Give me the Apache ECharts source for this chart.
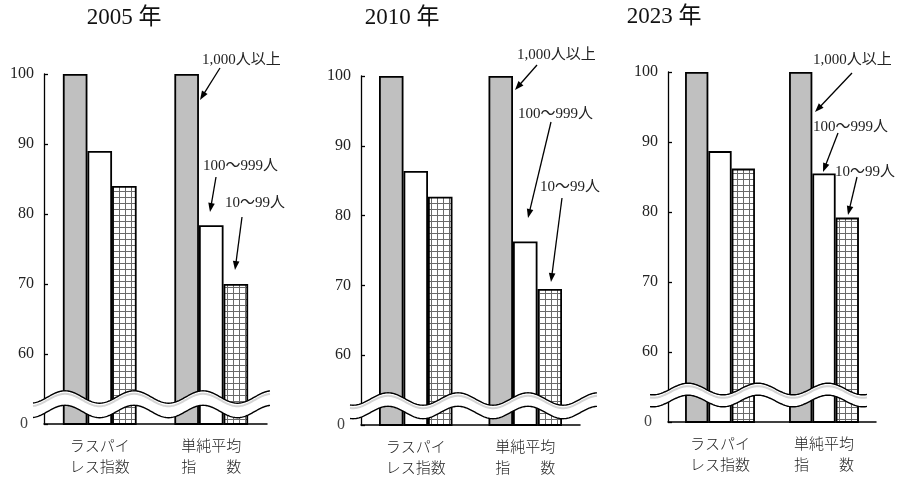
<!DOCTYPE html>
<html><head><meta charset="utf-8">
<script src="https://cdn.jsdelivr.net/npm/echarts@6/dist/echarts.min.js"></script>
<style>html,body{margin:0;padding:0;background:#fff}#c{width:908px;height:478px}</style>
</head><body><div id="c"></div>
<script>
// ---------------- data ----------------
const categories = ['ラスパイ\nレス指数', '単純平均\n指　　数'];
const panelTitles = ['2005 年', '2010 年', '2023 年'];
const sizeClasses = ['1,000人以上', '100〜999人', '10〜99人'];
const large2005 = [100, 100];
const mid2005 = [89.0, 78.4];
const small2005 = [84.0, 70.0];
const large2010 = [100, 100];
const mid2010 = [86.4, 76.3];
const small2010 = [82.7, 69.5];
const large2023 = [100, 100];
const mid2023 = [88.7, 85.5];
const small2023 = [86.2, 79.2];
// broken axis: the lowest position (50 on the scale) is labelled "0"
const yTickValues = [50, 60, 70, 80, 90, 100];
const yTickLabels = ['0', '60', '70', '80', '90', '100'];

const panelData = [
  [large2005, mid2005, small2005],
  [large2010, mid2010, small2010],
  [large2023, mid2023, small2023]
];

// ---------------- layout ----------------
const grids = [
  {left: 44, top: 74, width: 223, height: 350},
  {left: 361, top: 76, width: 219, height: 349},
  {left: 668, top: 72, width: 208, height: 350}
];
const barWidths = [24.6, 24.5, 23.3];
const titlePos = [[124, 18], [402, 18], [664, 17]];
// break waves: offsets from grid bottom, x-extent offsets, peak offset from axis
const breaks = [
  {top: -27, bot: -12.5, xl: -11, xr: 3, peak: 21, P: 69, A: 6.2},
  {top: -26, bot: -12.5, xl: -11, xr: 17, peak: 27, P: 70, A: 6.2},
  {top: -33, bot: -21, xl: -18, xr: -9, peak: 20, P: 70, A: 5.8}
];
// annotation layout [textX, textY, fromX, fromY, toX, toY]
const notes = [
  [[202, 60, 220, 68, 200, 100], [203, 166, 216, 177, 210, 212], [225, 203, 242, 217, 235, 270]],
  [[517, 55, 537, 65, 515, 90], [518, 114, 551, 122, 528, 218], [540, 187, 562, 198, 551, 282]],
  [[813, 60, 852, 73, 815, 112], [813, 127, 838, 133, 823, 172], [835, 172, 857, 177, 848, 215]]
];

// hatch pattern
const pc = document.createElement('canvas');
pc.width = 6; pc.height = 6;
const g = pc.getContext('2d');
g.fillStyle = '#fff'; g.fillRect(0, 0, 6, 6);
g.fillStyle = '#6a6a6a';
g.fillRect(5, 0, 1, 6);
g.fillRect(0, 5, 6, 1);

const fills = ['#c0c0c0', '#ffffff', {image: pc, repeat: 'repeat'}];
const serifFont = '"Liberation Serif", "Noto Sans CJK JP", serif';
const jpFont = '"Noto Sans CJK JP", sans-serif';

const chart = echarts.init(document.getElementById('c'), null, {renderer: 'canvas'});

const option = {
  animation: false,
  backgroundColor: '#fff',
  grid: grids.map(gr => Object.assign({containLabel: false}, gr)),
  xAxis: grids.map((gr, i) => ({
    type: 'category', gridIndex: i, data: categories,
    axisLine: {lineStyle: {color: '#000', width: 1.5}},
    axisTick: {show: false},
    axisLabel: {fontFamily: jpFont, fontSize: 15, fontWeight: 300, color: '#222', lineHeight: 21, margin: 11, interval: 0}
  })),
  yAxis: grids.map((gr, i) => ({
    type: 'value', gridIndex: i, min: 50, max: 100, interval: 10,
    splitLine: {show: false},
    axisLine: {show: true, lineStyle: {color: '#000', width: 1.3}},
    axisTick: {show: true, inside: true, length: 4, lineStyle: {color: '#000', width: 1.3}},
    axisLabel: {
      fontFamily: serifFont, fontSize: 16, color: '#222', margin: 10,
      formatter: v => {
        const k = yTickValues.indexOf(v);
        const t = k >= 0 ? yTickLabels[k] : '';
        return v === 50 ? '{z|' + t + '}' : t;
      },
      rich: {z: {fontFamily: serifFont, fontSize: 16, color: '#444', padding: [0, 6, 0, 0]}}
    }
  })),
  series: []
};

panelData.forEach((arrs, i) => {
  arrs.forEach((vals, j) => {
    option.series.push({
      type: 'bar', name: sizeClasses[j], xAxisIndex: i, yAxisIndex: i,
      data: vals, barWidth: barWidths[i], barGap: '0%', clip: true,
      itemStyle: {color: fills[j], borderColor: '#000', borderWidth: 1.8}
    });
  });
});

chart.setOption(option);

// ---------------- decorations ----------------
const graphics = [];
panelTitles.forEach((t, i) => {
  graphics.push({type: 'text', x: titlePos[i][0], y: titlePos[i][1], z: 120,
    style: {text: t, fontSize: 23, fontWeight: 'normal', fontFamily: serifFont, fill: '#111', align: 'center', verticalAlign: 'middle'}});
});

function wave(x0, x1, yc, peakX, P, A) {
  const pts = [];
  for (let x = x0; x <= x1 + 0.01; x += 1) {
    pts.push([x, yc - A * Math.cos(2 * Math.PI * (x - peakX) / P)]);
  }
  return pts;
}

grids.forEach((gr, i) => {
  const b = breaks[i];
  const bottom = chart.convertToPixel({yAxisIndex: i}, 50);
  const x0 = gr.left + b.xl, x1 = gr.left + gr.width + b.xr, pk = gr.left + b.peak;
  const topW = wave(x0, x1, bottom + b.top, pk, b.P, b.A);
  const botW = wave(x0, x1, bottom + b.bot, pk, b.P, b.A);
  const midW = wave(x0, x1, bottom + b.top + 3, pk, b.P, b.A);
  graphics.push({type: 'polygon', z: 110, shape: {points: topW.concat(botW.slice().reverse())}, style: {fill: '#fff', stroke: null}});
  graphics.push({type: 'polyline', z: 111, shape: {points: midW}, style: {stroke: '#d4d4d4', lineWidth: 2, fill: null}});
  graphics.push({type: 'polyline', z: 112, shape: {points: topW}, style: {stroke: '#000', lineWidth: 1.4, fill: null}});
  graphics.push({type: 'polyline', z: 112, shape: {points: botW}, style: {stroke: '#000', lineWidth: 1.4, fill: null}});
});

notes.forEach((pn) => {
  pn.forEach((n, j) => {
    const [tx, ty, fx, fy, ex, ey] = n;
    graphics.push({type: 'text', x: tx, y: ty, z: 120,
      style: {text: sizeClasses[j], fontSize: 15, fontFamily: serifFont, fill: '#222', align: 'left', verticalAlign: 'middle'}});
    const dx = ex - fx, dy = ey - fy, L = Math.hypot(dx, dy);
    const ux = dx / L, uy = dy / L, hl = 9, hw = 3.3;
    const bx = ex - ux * hl, by = ey - uy * hl;
    graphics.push({type: 'line', z: 120, shape: {x1: fx, y1: fy, x2: bx + ux, y2: by + uy}, style: {stroke: '#000', lineWidth: 1.3}});
    graphics.push({type: 'polygon', z: 120,
      shape: {points: [[ex, ey], [bx - uy * hw, by + ux * hw], [bx + uy * hw, by - ux * hw]]},
      style: {fill: '#000', stroke: null}});
  });
});

chart.setOption({graphic: {elements: graphics}});
</script>
</body></html>
